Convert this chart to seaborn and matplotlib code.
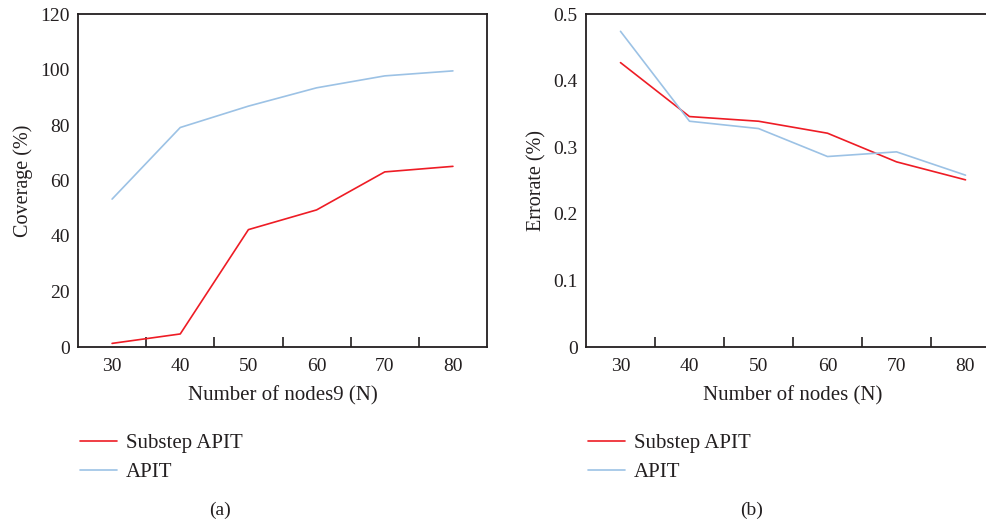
import numpy as np
import pandas as pd
import matplotlib
matplotlib.use("Agg")
import matplotlib.pyplot as plt
import seaborn as sns

# data
nodes = [30, 40, 50, 60, 70, 80]
coverage_substep = [1.3, 4.7, 42.3, 49.4, 63.1, 65.1]
coverage_apit = [53.3, 79.1, 86.8, 93.4, 97.7, 99.5]
error_substep = [0.427, 0.346, 0.339, 0.321, 0.278, 0.251]
error_apit = [0.474, 0.339, 0.328, 0.286, 0.293, 0.258]
series_names = ["Substep APIT", "APIT"]

RED = "#ee1c25"
BLUE = "#9cc2e5"
DARK = "#231f20"

sns.set_theme(style="white")
plt.rcParams["font.family"] = ["Liberation Serif", "DejaVu Serif"]
plt.rcParams["text.color"] = DARK
plt.rcParams["axes.labelcolor"] = DARK
plt.rcParams["xtick.color"] = DARK
plt.rcParams["ytick.color"] = DARK


def long_df(a, b):
    return pd.DataFrame({
        "x": nodes * 2,
        "y": list(a) + list(b),
        "series": [series_names[0]] * len(nodes) + [series_names[1]] * len(nodes),
    })


fig = plt.figure(figsize=(9.86, 5.25), dpi=100)
ax1 = fig.add_axes([78 / 986, 1 - 347 / 525, 409 / 986, 333 / 525])
ax2 = fig.add_axes([586 / 986, 1 - 347 / 525, 414 / 986, 333 / 525])

palette = {series_names[0]: RED, series_names[1]: BLUE}

sns.lineplot(data=long_df(coverage_substep, coverage_apit), x="x", y="y",
             hue="series", palette=palette, ax=ax1, linewidth=1.2)
sns.lineplot(data=long_df(error_substep, error_apit), x="x", y="y",
             hue="series", palette=palette, ax=ax2, linewidth=1.2)

for ax in (ax1, ax2):
    ax.set_xlim(25, 85)
    ax.set_xticks(nodes)
    ax.set_xticks([35, 45, 55, 65, 75], minor=True)
    ax.tick_params(axis="x", which="major", bottom=True, length=0, labelsize=14, pad=8)
    ax.tick_params(axis="x", which="minor", bottom=True, length=7, width=1.2,
                   direction="in", color=DARK)
    ax.tick_params(axis="y", length=0, labelsize=14, pad=6)
    for s in ax.spines.values():
        s.set_color(DARK)
        s.set_linewidth(1.3)
    ax.legend(loc="upper left", bbox_to_anchor=(0.005, -0.26), frameon=False,
              fontsize=15, handlelength=1.75, handletextpad=0.45,
              labelspacing=0.45, borderaxespad=0, borderpad=0)

ax1.set_ylim(0, 120)
ax1.set_yticks(range(0, 121, 20))
ax1.set_xlabel("Number of nodes9 (N)", fontsize=15, labelpad=8)
ax1.set_ylabel("Coverage (%)", fontsize=14.5, labelpad=5)

ax2.set_ylim(0, 0.5)
ax2.set_yticks([0, 0.1, 0.2, 0.3, 0.4, 0.5])
ax2.set_yticklabels(["0", "0.1", "0.2", "0.3", "0.4", "0.5"])
ax2.set_xlabel("Number of nodes (N)", fontsize=15, labelpad=8)
ax2.set_ylabel("Errorate (%)", fontsize=14.5, labelpad=5)

fig.text(220 / 986, 1 - 510 / 525, "(a)", ha="center", va="center", fontsize=14)
fig.text(752 / 986, 1 - 510 / 525, "(b)", ha="center", va="center", fontsize=14)

fig.savefig("out.png", dpi=100)
